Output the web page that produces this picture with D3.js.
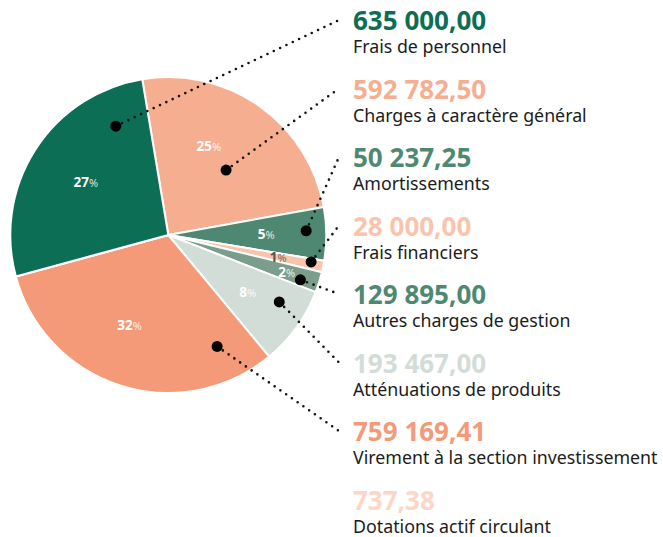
<!DOCTYPE html>
<html><head><meta charset="utf-8">
<script src="https://cdn.jsdelivr.net/npm/d3@7"></script>
<style>
html,body{margin:0;padding:0;background:#fff;}
svg{display:block;font-family:"Noto Sans",sans-serif;}
</style></head>
<body><svg id="chart" width="663" height="537"></svg>
<script>
// ---- data ----
const categories = ["Frais de personnel","Charges à caractère général","Amortissements","Frais financiers","Autres charges de gestion","Atténuations de produits","Virement à la section investissement","Dotations actif circulant"];
const values = [635000.00, 592782.50, 50237.25, 28000.00, 129895.00, 193467.00, 759169.41, 737.38];
const valueColors = ["#0b6e55","#f6ae91","#4f8872","#f9c3ac","#4f8872","#d3ddd7","#f49a78","#fdd6c7"];
const sliceColors = ["#0b6e55","#f6ae91","#7a9e8b","#f9c3ac","#4f8872","#d3ddd7","#f49a78","#fdd6c7"];
// order of slices clockwise around the pie
const pieOrder = ["Charges à caractère général","Autres charges de gestion","Frais financiers","Amortissements","Atténuations de produits","Virement à la section investissement","Dotations actif circulant","Frais de personnel"];
// slice each legend entry's callout points to
const calloutTarget = ["Frais de personnel","Charges à caractère général","Autres charges de gestion","Frais financiers","Amortissements","Atténuations de produits","Virement à la section investissement", null];

// ---- layout config ----
const W = 663, H = 537;
const cx = 168.3, cy = 235, R = 158;
const startDeg = -9.5;
// callout anchor inside each slice: [fraction along slice angle, fraction of radius]
const anchorCfg = {
  "Frais de personnel":[0.83,0.765],
  "Charges à caractère général":[0.573,0.55],
  "Amortissements":[0.68,0.883],
  "Frais financiers":[0.31,0.92],
  "Autres charges de gestion":[0.43,0.873],
  "Atténuations de produits":[0.34,0.82],
  "Virement à la section investissement":[0.14,0.77]
};
const labelFrac = {"Charges à caractère général":0.38,"Virement à la section investissement":0.55};
const labelRad = {"Frais financiers":0.71,"Amortissements":0.785};
const legendX = 353, legendY0 = 30, legendStep = 68.5;

const svg = d3.select("#chart");
const fr = d3.formatLocale({decimal:",", thousands:" ", grouping:[3], currency:["",""]}).format(",.2f");
const total = d3.sum(values);
const idx = c => categories.indexOf(c);

const pie = d3.pie()
  .value(c => values[idx(c)])
  .sort(null)
  .startAngle(startDeg*Math.PI/180)
  .endAngle(startDeg*Math.PI/180 + 2*Math.PI);
const arcs = pie(pieOrder);
const arcByCat = {};
arcs.forEach(a => arcByCat[a.data] = a);

const arc = d3.arc().innerRadius(0).outerRadius(R);
const g = svg.append("g").attr("transform", `translate(${cx},${cy})`);

g.selectAll("path.slice").data(arcs).join("path")
  .attr("class","slice")
  .attr("d", arc)
  .attr("fill", d => sliceColors[idx(d.data)])
  .attr("stroke", "#fff")
  .attr("stroke-width", 2)
  .attr("stroke-linejoin","round");

const polar = (ang, r) => [r*Math.sin(ang), -r*Math.cos(ang)];

// percent labels
const pctG = g.selectAll("text.pct").data(arcs.filter(d => values[idx(d.data)]/total >= 0.005)).join("text")
  .attr("class","pct")
  .attr("text-anchor","middle")
  .attr("dominant-baseline","central")
  .attr("fill", d => d.data === "Frais financiers" ? "#555" : "#fff")
  .attr("transform", d => {
    const span = d.endAngle - d.startAngle;
    const f = labelFrac[d.data] !== undefined ? labelFrac[d.data] : 0.5;
    const ang = d.startAngle + span*f;
    const r = R*(labelRad[d.data] !== undefined ? labelRad[d.data] : 0.62);
    const p = polar(ang, r);
    return `translate(${p[0]},${p[1]})`;
  });
pctG.append("tspan")
  .attr("font-weight", 700).attr("font-size", 13.5)
  .text(d => Math.round(values[idx(d.data)]/total*100));
pctG.append("tspan")
  .attr("font-weight", 400).attr("font-size", 11).attr("fill-opacity", 0.85)
  .text("%");

// legend
const leg = svg.append("g");
categories.forEach((c, i) => {
  const y = legendY0 + i*legendStep;
  leg.append("text")
    .attr("x", legendX).attr("y", y)
    .attr("font-size", 26).attr("font-weight", 700)
    .attr("fill", valueColors[i])
    .text(fr(values[i]));
  leg.append("text")
    .attr("x", legendX).attr("y", y + 23.3)
    .attr("font-size", 17.8).attr("font-weight", 400)
    .attr("fill", "#1b1b1b")
    .text(c);
});

// callouts
categories.forEach((c, i) => {
  const t = calloutTarget[i];
  if (!t) return;
  const a = arcByCat[t];
  const cfg = anchorCfg[t];
  const ang = a.startAngle + (a.endAngle - a.startAngle)*cfg[0];
  const p = polar(ang, R*cfg[1]);
  const sx = cx + p[0], sy = cy + p[1];
  const ex = legendX - 14, ey = legendY0 + i*legendStep - 10;
  svg.append("line")
    .attr("x1", sx).attr("y1", sy).attr("x2", ex).attr("y2", ey)
    .attr("stroke", "#111").attr("stroke-width", 2.6)
    .attr("stroke-linecap","round")
    .attr("stroke-dasharray","0,7");
  svg.append("circle")
    .attr("cx", sx).attr("cy", sy).attr("r", 5.5)
    .attr("fill", "#000");
});
</script>
</body></html>
